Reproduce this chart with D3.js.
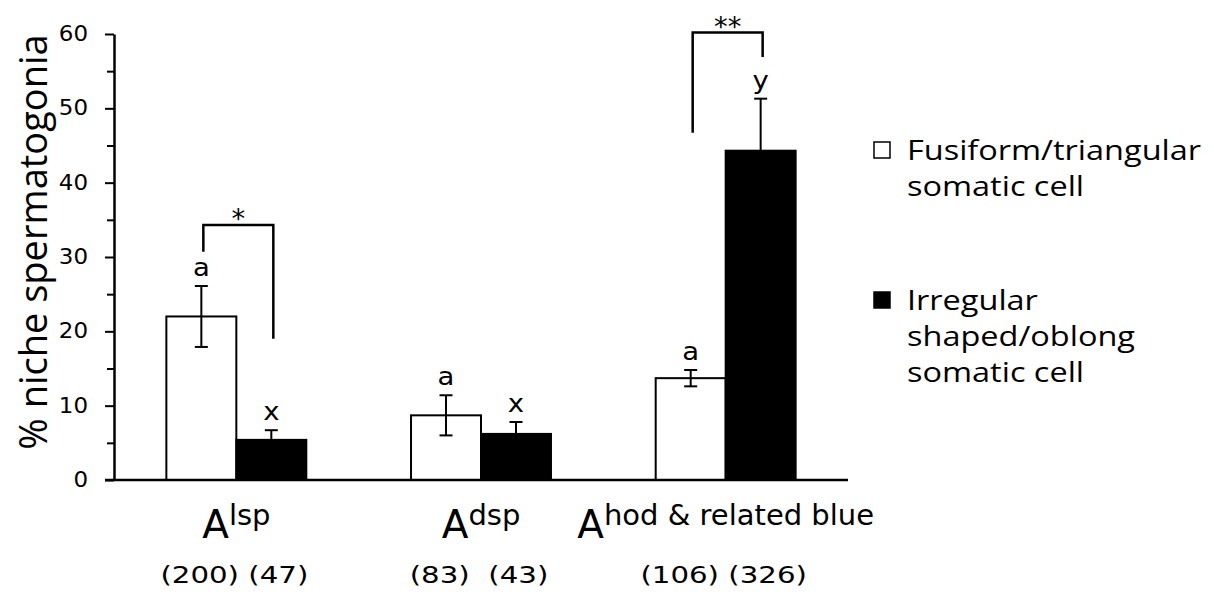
<!DOCTYPE html>
<html>
<head>
<meta charset="utf-8">
<script src="https://cdn.jsdelivr.net/npm/d3@7/dist/d3.min.js"></script>
<style>
  html, body { margin: 0; padding: 0; background: #fff; }
  svg { display: block; }
  text { fill: #000; }
</style>
</head>
<body>
<script>
// ── data ──────────────────────────────────────────────────────────────
var groups      = ['lsp', 'dsp', 'hod & related blue'];
var seriesNames = ['Fusiform/triangular somatic cell', 'Irregular shaped/oblong somatic cell'];
var fusiform     = [22.0, 8.7, 13.7];
var fusiformErr  = [4.1, 2.7, 1.1];
var irregular    = [5.4, 6.2, 44.3];
var irregularErr = [1.3, 1.6, 7.0];
var fusiformLetters  = ['a', 'a', 'a'];
var irregularLetters = ['x', 'x', 'y'];
var counts = ['(200) (47)', '(83)  (43)', '(106) (326)'];

// significance brackets (value units)
var sigGroups   = [0, 2];
var sigTop      = [34.3, 60.2];
var sigLeftEnd  = [30.7, 46.7];
var sigRightEnd = [19.0, 56.9];
var sigLabels   = ['*', '**'];

var yTicks      = [0, 10, 20, 30, 40, 50, 60];
var yMinorTicks = [5, 15, 25, 35, 45, 55];
var legendLines = [['Fusiform/triangular', 'somatic cell'],
                   ['Irregular', 'shaped/oblong', 'somatic cell']];

// ── geometry ──────────────────────────────────────────────────────────
var W = 1214, H = 597;
var sans  = '"DejaVu Sans", Verdana, sans-serif';
var calib = '"Open Sans", Lato, sans-serif';

var svg = d3.select('body').append('svg').attr('width', W).attr('height', H);

var y  = d3.scaleLinear().domain([0, 60]).range([480, 34]);
var x0 = d3.scaleBand().domain(groups).range([114, 848])
           .paddingInner(0.428).paddingOuter(0.214);
var x1 = d3.scaleBand().domain(seriesNames).range([0, x0.bandwidth()]);

var rows = groups.map(function (g, i) {
    return [
        { g: g, s: seriesNames[0], v: fusiform[i],  e: fusiformErr[i],  l: fusiformLetters[i],  fill: '#fff' },
        { g: g, s: seriesNames[1], v: irregular[i], e: irregularErr[i], l: irregularLetters[i], fill: '#000' }
    ];
});
function cx(d) { return x0(d.g) + x1(d.s) + x1.bandwidth() / 2; }

// horizontally stretched text helper (source art is stretched wide)
function sText(parent, x, yy, k, str, size, family, anchor) {
    return parent.append('text')
        .attr('transform', 'translate(' + x + ',' + yy + ') scale(' + k + ',1)')
        .attr('text-anchor', anchor || 'middle')
        .attr('font-family', family || sans)
        .attr('font-size', size + 'px')
        .style('white-space', 'pre')
        .text(str);
}

// ── bars ──────────────────────────────────────────────────────────────
var bars = svg.append('g');
rows.forEach(function (pair) {
    pair.forEach(function (d) {
        bars.append('rect')
            .attr('x', x0(d.g) + x1(d.s)).attr('y', y(d.v))
            .attr('width', x1.bandwidth()).attr('height', y(0) - y(d.v))
            .attr('fill', d.fill).attr('stroke', '#000').attr('stroke-width', 2);
    });
});

// ── error bars + letters ─────────────────────────────────────────────
var capW = 13;
rows.forEach(function (pair) {
    pair.forEach(function (d) {
        var x = cx(d), hi = y(d.v + d.e), lo = y(d.v - d.e);
        bars.append('line').attr('x1', x).attr('x2', x).attr('y1', hi).attr('y2', lo)
            .attr('stroke', '#000').attr('stroke-width', 2);
        [hi, lo].forEach(function (yy) {
            bars.append('line').attr('x1', x - capW / 2).attr('x2', x + capW / 2)
                .attr('y1', yy).attr('y2', yy)
                .attr('stroke', '#000').attr('stroke-width', 2);
        });
        sText(bars, x, hi - 10, 1.1, d.l, 25);
    });
});

// ── axes ──────────────────────────────────────────────────────────────
var yAxis = svg.append('g').attr('transform', 'translate(114,0)')
    .call(d3.axisLeft(y).tickValues(yTicks).tickSize(9).tickSizeOuter(0).tickFormat(d3.format('d')));
yAxis.selectAll('text').remove();
svg.append('g').attr('transform', 'translate(114,0)')
    .call(d3.axisLeft(y).tickValues(yMinorTicks).tickSize(7).tickSizeOuter(0).tickFormat(''))
    .select('.domain').remove();
svg.selectAll('.tick line').attr('stroke', '#000').attr('stroke-width', 2);
yAxis.select('.domain').attr('stroke', '#000').attr('stroke-width', 2.5);

yTicks.forEach(function (t) {
    sText(svg, 88, y(t) + 7, 1.12, String(t), 20.5, sans, 'end');
});

svg.append('line')
    .attr('x1', x0.range()[0] - 9).attr('x2', x0.range()[1])
    .attr('y1', y(0)).attr('y2', y(0))
    .attr('stroke', '#000').attr('stroke-width', 2.5);

// y title
svg.append('text')
    .attr('transform', 'translate(47,' + 242 + ') rotate(-90)')
    .attr('text-anchor', 'middle')
    .attr('font-family', calib).attr('font-size', '38px')
    .text('% niche spermatogonia');

// ── category labels + counts ─────────────────────────────────────────
groups.forEach(function (g, i) {
    var c = x0(g) + x0.bandwidth() / 2;
    var t = svg.append('text')
        .attr('x', c).attr('y', 538)
        .attr('text-anchor', 'middle')
        .attr('font-family', sans);
    t.append('tspan').attr('font-size', '39px').text('A');
    t.append('tspan').attr('font-size', '29px').attr('dy', -13).text(g);
    sText(svg, c - 2, 583, 1.3, counts[i], 22.5);
});

// ── significance brackets ────────────────────────────────────────────
sigGroups.forEach(function (gi, i) {
    var pair = rows[gi];
    var xl = cx(pair[0]) + 2, xr = cx(pair[1]) + 2;
    var yt = y(sigTop[i]);
    svg.append('path')
        .attr('d', 'M' + xl + ',' + y(sigLeftEnd[i]) + 'V' + yt + 'H' + xr + 'V' + y(sigRightEnd[i]))
        .attr('fill', 'none').attr('stroke', '#000').attr('stroke-width', 2.5);
    sText(svg, (xl + xr) / 2, yt + 3, 1.05, sigLabels[i], 26);
});

// ── legend ───────────────────────────────────────────────────────────
var legendTop = [142, 292];
var fills = ['#fff', '#000'];
legendLines.forEach(function (lines, i) {
    svg.append('rect')
        .attr('x', 874).attr('y', legendTop[i])
        .attr('width', 16).attr('height', 16)
        .attr('fill', fills[i]).attr('stroke', '#000').attr('stroke-width', 1.5);
    lines.forEach(function (ln, j) {
        sText(svg, 907, legendTop[i] + 18 + j * 36, 1.16, ln, 28, calib, 'start');
    });
});
</script>
</body>
</html>
